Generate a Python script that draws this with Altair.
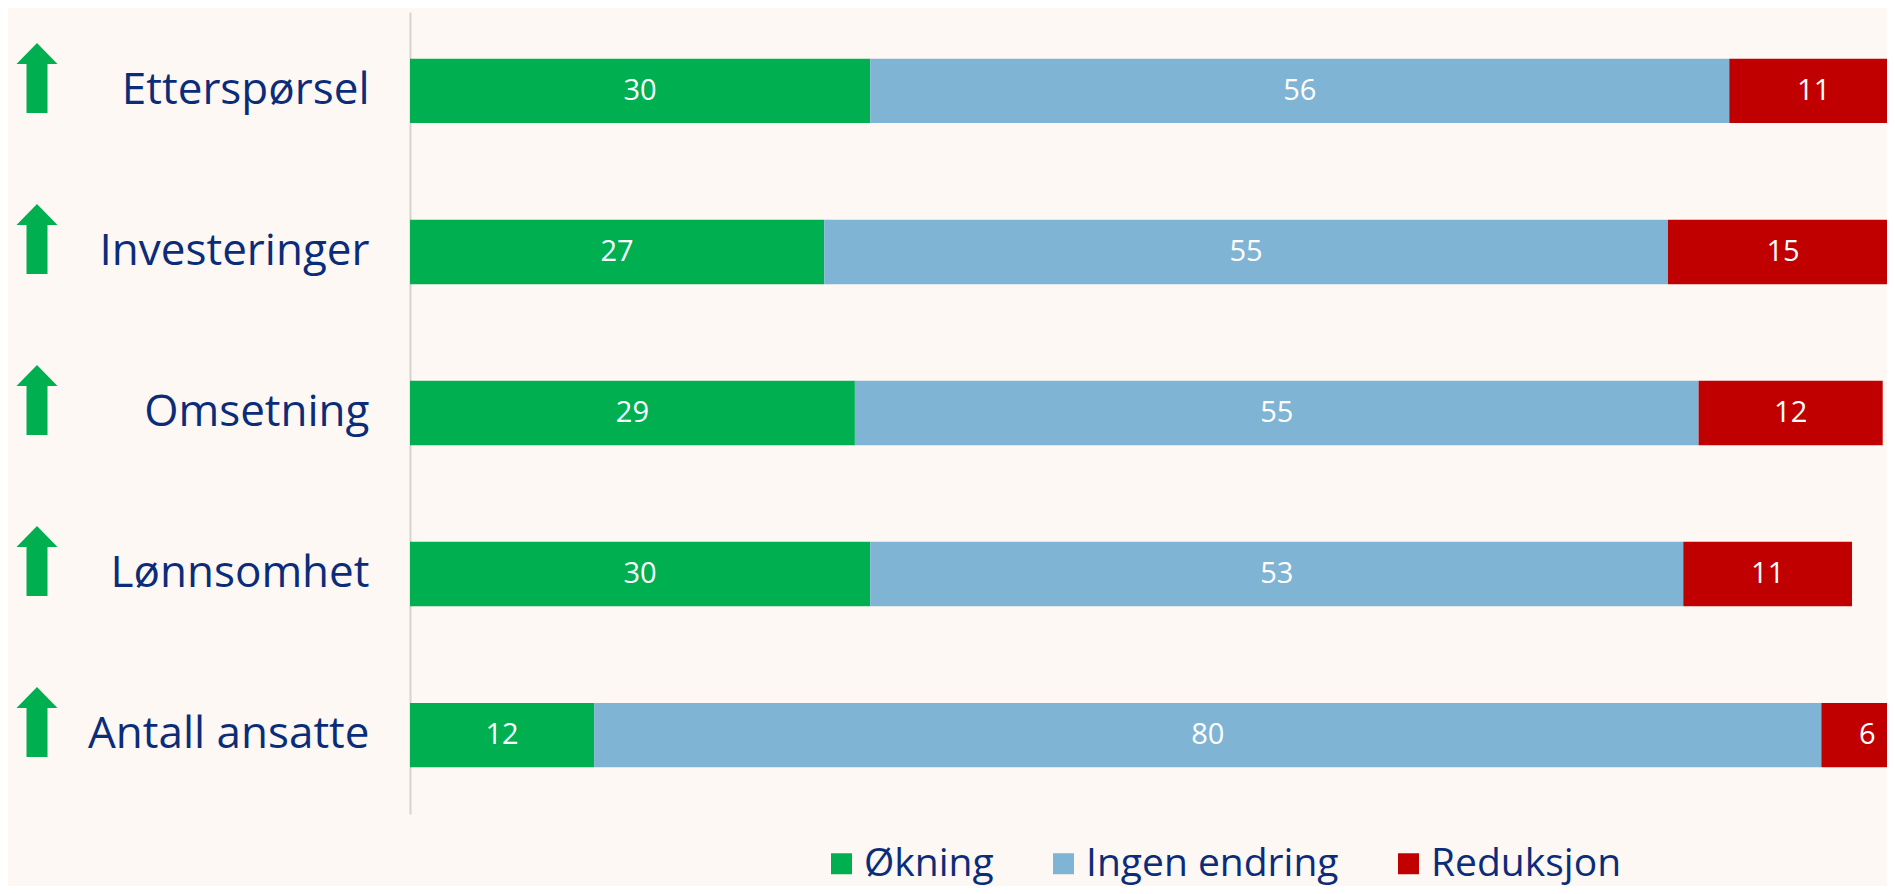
import altair as alt
import pandas as pd

categories = ["Etterspørsel", "Investeringer", "Omsetning", "Lønnsomhet", "Antall ansatte"]
series = ["Økning", "Ingen endring", "Reduksjon"]
okning = [30, 27, 29, 30, 12]
ingen_endring = [56, 55, 55, 53, 80]
reduksjon = [11, 15, 12, 11, 6]
colors = ["#00b050", "#7fb4d4", "#c00000"]

NAVY = "#0b2d79"
BG = "#fdf8f4"
FONT = "Open Sans"

rows = []
for i, cat in enumerate(categories):
    start = 0
    for s, vals in zip(series, [okning, ingen_endring, reduksjon]):
        v = vals[i]
        rows.append({"kategori": cat, "serie": s, "verdi": v, "order": series.index(s),
                     "start": start, "slutt": start + v, "midt": start + v / 2})
        start += v
df = pd.DataFrame(rows)
arrows_df = pd.DataFrame({"kategori": categories})

y_enc = alt.Y("kategori:N", sort=categories,
              scale=alt.Scale(paddingInner=0.6, paddingOuter=0.29),
              axis=alt.Axis(title=None, ticks=False, labelPadding=41, labelFontSize=44,
                            labelFont=FONT, labelFontWeight=400, labelColor=NAVY,
                            domainColor="#d6d3d0", domainWidth=2, grid=False,
                            labelLimit=400))
x_scale = alt.Scale(domain=[0, 96.28], nice=False, zero=True)

bars = alt.Chart(df).mark_bar(clip=True, strokeWidth=0).encode(
    y=y_enc,
    x=alt.X("start:Q", scale=x_scale, axis=None),
    x2="slutt:Q",
    color=alt.Color("serie:N", scale=alt.Scale(domain=series, range=colors),
                    legend=alt.Legend(title=None, orient="none", legendX=412, legendY=832,
                                      direction="horizontal", symbolType="square",
                                      symbolSize=441, symbolStrokeWidth=0,
                                      labelFontSize=39, labelFont=FONT, labelFontWeight=400,
                                      labelColor=NAVY, columnPadding=50, labelOffset=3,
                                      padding=0, labelLimit=500)),
)

labels = alt.Chart(df).mark_text(color="white", fontSize=29, font=FONT, fontWeight=400,
                                 baseline="middle", align="center").encode(
    y=alt.Y("kategori:N", sort=categories),
    x=alt.X("midt:Q", scale=x_scale),
    text=alt.Text("verdi:Q"),
)

arrow_path = "M0,-1 L0.586,-0.4 L0.3,-0.4 L0.3,1 L-0.3,1 L-0.3,-0.4 L-0.586,-0.4 Z"
arrows = alt.Chart(arrows_df).mark_point(shape=arrow_path, size=4900, filled=True,
                                         color="#00b050", opacity=1, strokeWidth=0,
                                         yOffset=-13).encode(
    y=alt.Y("kategori:N", sort=categories),
    x=alt.value(-373),
)

chart = alt.layer(bars, labels, arrows).properties(
    width=1477, height=802,
    padding={"left": 402, "top": 4, "right": 0, "bottom": 72},
    autosize="none",
    background=BG,
).configure_view(stroke=None)

chart.save("out.html", embed_options={"renderer": "svg", "actions": False})
